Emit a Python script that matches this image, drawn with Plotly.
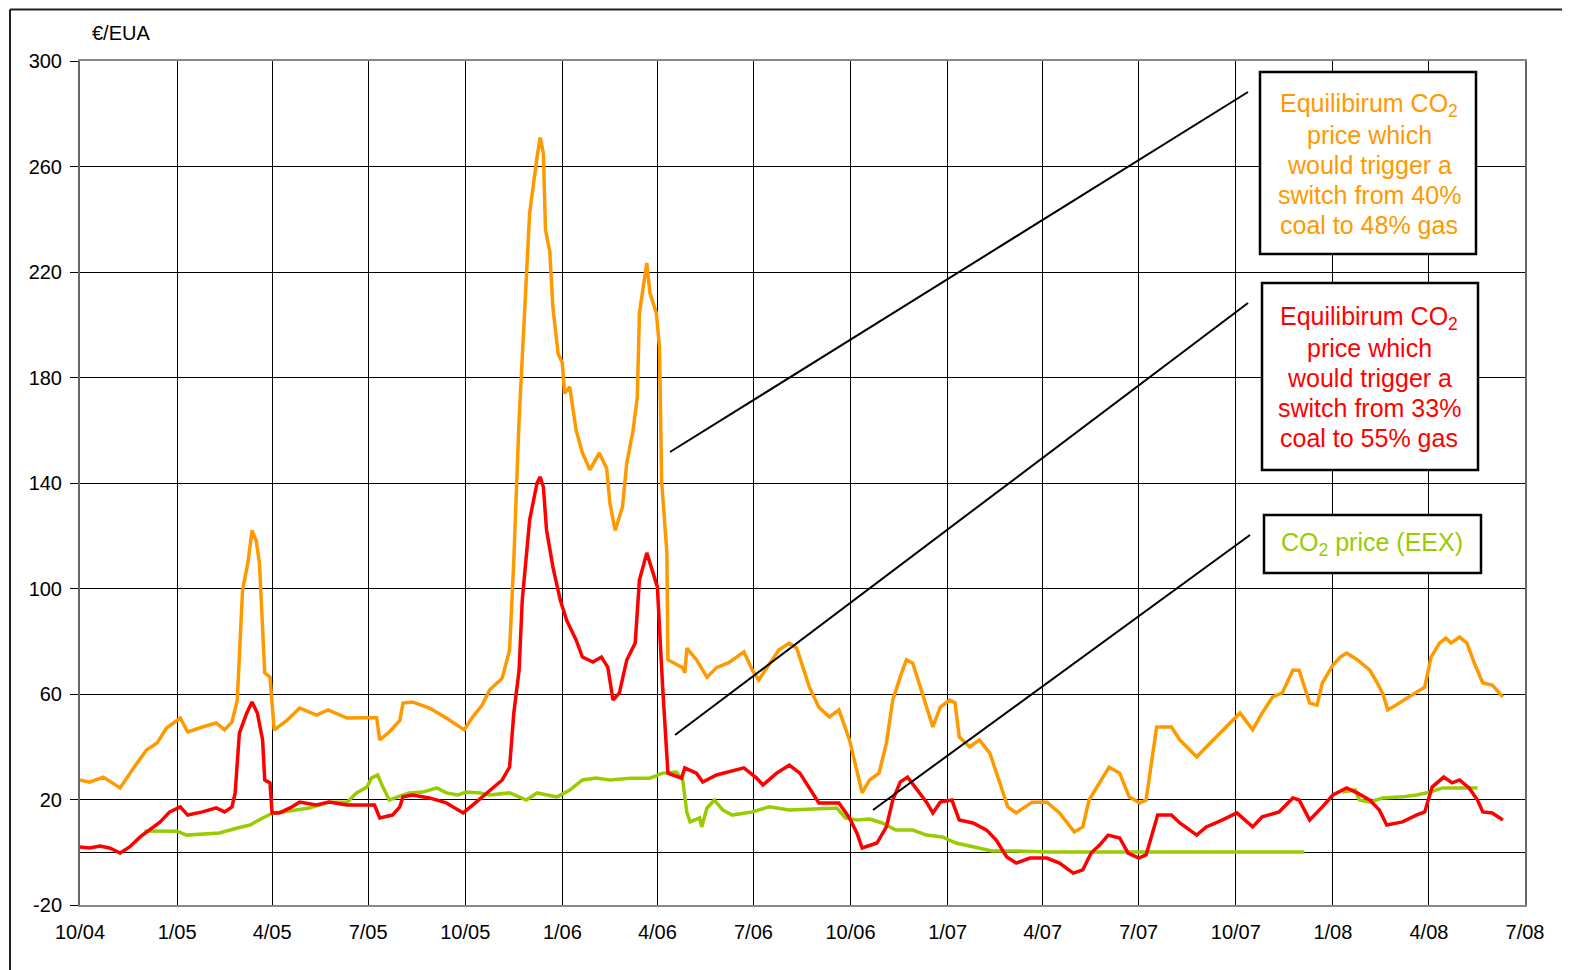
import plotly.graph_objects as go

# ---------------- data ----------------
orange_dates = ["2004-10-01","2004-10-10","2004-10-23","2004-11-08","2004-11-24","2004-12-03","2004-12-13","2004-12-22",
"2005-01-04","2005-01-11","2005-01-25","2005-02-07","2005-02-15","2005-02-22","2005-02-27","2005-03-04","2005-03-09",
"2005-03-13","2005-03-17","2005-03-20","2005-03-25","2005-03-30","2005-04-03","2005-04-15","2005-04-27","2005-05-13",
"2005-05-24","2005-06-11","2005-06-26","2005-07-09","2005-07-12","2005-07-21","2005-07-31","2005-08-03","2005-08-12",
"2005-08-28","2005-09-13","2005-09-30","2005-10-08","2005-10-17","2005-10-24","2005-11-05","2005-11-12","2005-11-16",
"2005-11-21","2005-11-24","2005-11-28","2005-12-01","2005-12-08","2005-12-11","2005-12-14","2005-12-16","2005-12-20",
"2005-12-23","2005-12-28","2006-01-01","2006-01-03","2006-01-08","2006-01-14","2006-01-20","2006-01-27","2006-02-05",
"2006-02-12","2006-02-15","2006-02-20","2006-02-27","2006-03-03","2006-03-09","2006-03-13","2006-03-15","2006-03-22",
"2006-03-25","2006-03-31","2006-04-03","2006-04-05","2006-04-10","2006-04-11","2006-04-25","2006-04-27","2006-04-29",
"2006-05-08","2006-05-18","2006-05-27","2006-06-08","2006-06-22","2006-06-30","2006-07-06","2006-07-25","2006-08-04",
"2006-08-11","2006-08-23","2006-09-01","2006-09-11","2006-09-20","2006-09-30","2006-10-07","2006-10-12","2006-10-19",
"2006-10-28","2006-11-04","2006-11-10","2006-11-17","2006-11-23","2006-11-29","2006-12-09","2006-12-18","2006-12-25",
"2007-01-03","2007-01-08","2007-01-12","2007-01-22","2007-01-31","2007-02-10","2007-02-19","2007-02-27","2007-03-07",
"2007-03-22","2007-04-05","2007-04-17","2007-05-01","2007-05-09","2007-05-15","2007-05-25","2007-06-03","2007-06-13",
"2007-06-22","2007-07-02","2007-07-08","2007-07-18","2007-08-01","2007-08-09","2007-08-25","2007-09-03","2007-09-16",
"2007-09-28","2007-10-05","2007-10-17","2007-10-26","2007-11-05","2007-11-14","2007-11-24","2007-11-30","2007-12-10",
"2007-12-17","2007-12-22","2008-01-01","2008-01-08","2008-01-14","2008-01-24","2008-02-05","2008-02-12","2008-02-17",
"2008-02-22","2008-03-01","2008-03-13","2008-03-20","2008-03-28","2008-04-03","2008-04-11","2008-04-17","2008-04-22",
"2008-04-30","2008-05-07","2008-05-14","2008-05-22","2008-05-31","2008-06-10"]
orange_values = [27.4,26.6,28.5,24.4,33.8,38.8,41.4,47.1,
50.9,45.6,47.5,49.0,46.4,49.4,57.7,99.4,109.7,
122.0,118.0,109.7,68.0,66.4,46.4,50.0,54.7,52.0,
54.0,50.9,51.0,51.0,42.6,45.6,50.0,56.6,57.0,
54.7,50.9,46.4,51.3,55.8,61.5,66.0,76.7,110.8,
164.0,187.8,217.0,242.4,263.6,271.0,265.0,236.0,228.0,
206.7,189.0,185.5,174.0,176.4,160.0,151.4,145.0,151.4,
145.5,132.4,122.0,131.0,147.6,160.0,172.6,204.5,223.4,
212.0,204.5,191.6,141.0,113.5,73.0,70.0,68.0,77.4,
73.0,66.4,70.0,72.0,76.0,69.0,65.3,76.7,79.3,
77.4,62.6,55.0,51.3,54.0,42.6,31.2,22.5,27.4,
30.0,41.4,57.7,66.4,73.0,71.7,58.9,47.5,55.0,
57.7,56.6,43.7,39.9,42.6,37.6,26.3,17.2,14.9,
19.0,19.0,14.9,7.7,9.6,19.8,26.3,32.3,30.0,
21.0,18.7,19.8,47.5,47.5,42.6,36.1,39.9,45.2,
50.0,52.8,46.4,52.8,58.9,60.4,69.0,69.0,56.6,
55.8,64.2,71.0,74.0,75.5,73.0,69.0,64.2,60.4,
54.0,55.8,58.9,60.8,62.6,74.0,79.3,81.2,79.3,
81.6,79.3,71.7,64.2,63.4,58.9]

red_dates = ["2004-10-01","2004-10-10","2004-10-20","2004-10-29","2004-11-08","2004-11-17","2004-11-27","2004-12-06",
"2004-12-16","2004-12-25","2005-01-04","2005-01-11","2005-01-25","2005-02-07","2005-02-15","2005-02-22","2005-02-25",
"2005-03-01","2005-03-08","2005-03-13","2005-03-18","2005-03-23","2005-03-25","2005-03-30","2005-04-01","2005-04-08",
"2005-04-18","2005-04-27","2005-05-13","2005-05-25","2005-06-11","2005-06-26","2005-07-07","2005-07-12","2005-07-24",
"2005-07-31","2005-08-03","2005-08-12","2005-08-28","2005-09-13","2005-09-29","2005-10-08","2005-10-17","2005-10-27",
"2005-11-05","2005-11-12","2005-11-16","2005-11-21","2005-11-24","2005-12-01","2005-12-08","2005-12-11","2005-12-14",
"2005-12-17","2005-12-23","2005-12-30","2006-01-05","2006-01-14","2006-01-20","2006-01-30","2006-02-07","2006-02-13",
"2006-02-18","2006-02-24","2006-03-03","2006-03-11","2006-03-15","2006-03-22","2006-03-27","2006-04-01","2006-04-06",
"2006-04-11","2006-04-24","2006-04-27","2006-05-08","2006-05-14","2006-05-27","2006-06-08","2006-06-22","2006-07-04",
"2006-07-10","2006-07-23","2006-08-04","2006-08-14","2006-08-26","2006-09-01","2006-09-20","2006-09-30","2006-10-07",
"2006-10-12","2006-10-26","2006-11-04","2006-11-10","2006-11-17","2006-11-24","2006-12-03","2006-12-12","2006-12-18",
"2006-12-25","2007-01-05","2007-01-12","2007-01-25","2007-02-07","2007-02-16","2007-02-26","2007-03-07","2007-03-20",
"2007-04-05","2007-04-17","2007-04-30","2007-05-09","2007-05-17","2007-05-25","2007-06-02","2007-06-13","2007-06-21",
"2007-07-01","2007-07-08","2007-07-19","2007-08-01","2007-08-09","2007-08-25","2007-09-03","2007-09-18","2007-10-02",
"2007-10-17","2007-10-26","2007-11-11","2007-11-24","2007-11-30","2007-12-10","2007-12-22","2008-01-01","2008-01-14",
"2008-01-24","2008-02-05","2008-02-14","2008-02-21","2008-03-07","2008-03-20","2008-03-28","2008-04-04","2008-04-15",
"2008-04-23","2008-04-30","2008-05-09","2008-05-17","2008-05-22","2008-05-31","2008-06-10"]
red_values = [2.0,1.6,2.4,1.6,-0.3,2.0,5.8,8.4,
11.5,15.3,17.2,14.1,15.3,16.8,15.3,17.2,22.5,
45.2,52.8,57.0,52.8,42.6,27.4,26.3,14.9,14.9,
16.8,19.0,17.9,19.0,17.9,17.9,17.9,13.0,14.1,
17.2,21.0,21.7,20.6,18.7,14.9,17.9,21.0,24.7,
27.4,32.3,52.8,69.0,95.6,126.0,140.0,142.3,138.5,
122.2,108.2,95.6,88.0,80.5,74.0,72.1,74.0,70.2,
57.7,60.4,72.9,79.3,103.2,113.5,107.0,100.6,62.6,
30.0,28.1,32.0,30.0,26.6,29.3,30.4,32.0,28.1,
25.5,30.0,33.0,30.0,22.5,18.7,18.7,13.0,7.3,
1.6,3.5,9.6,19.8,26.6,28.5,23.6,19.0,14.9,
19.0,19.8,12.2,11.1,8.4,4.6,-1.8,-4.1,-2.2,
-2.2,-4.1,-7.9,-6.7,-0.3,2.7,6.5,5.4,-0.3,
-2.2,-1.0,14.1,14.1,11.1,6.5,9.6,12.2,14.9,
9.6,13.4,15.3,20.6,19.8,12.2,17.2,21.7,24.4,
22.5,19.8,16.0,10.3,11.5,14.1,15.3,24.7,28.5,
26.3,27.4,24.4,19.8,15.3,14.9,12.2]

green_dates = ["2004-12-01","2005-01-01","2005-01-10","2005-02-10","2005-02-27","2005-03-11","2005-03-23","2005-04-02",
"2005-04-11","2005-04-24","2005-05-06","2005-05-25","2005-06-11","2005-06-20","2005-06-30","2005-07-04","2005-07-10",
"2005-07-15","2005-07-21","2005-07-29","2005-08-09","2005-08-22","2005-09-04","2005-09-13","2005-09-24","2005-10-02",
"2005-10-15","2005-10-24","2005-11-12","2005-11-28","2005-12-08","2005-12-27","2006-01-08","2006-01-20","2006-02-02",
"2006-02-15","2006-03-06","2006-03-25","2006-04-06","2006-04-19","2006-04-25","2006-04-29","2006-05-02","2006-05-11",
"2006-05-13","2006-05-18","2006-05-25","2006-06-02","2006-06-11","2006-06-30","2006-07-16","2006-08-04","2006-08-23",
"2006-09-18","2006-09-26","2006-10-07","2006-10-19","2006-10-31","2006-11-13","2006-11-29","2006-12-12","2006-12-27",
"2007-01-09","2007-01-28","2007-02-12","2007-03-07","2007-04-08","2007-05-25","2007-08-28","2007-12-05",
"2007-12-20",
"2008-01-10","2008-01-22","2008-01-26","2008-02-05","2008-02-17","2008-03-07","2008-03-20","2008-04-02","2008-04-14",
"2008-04-27","2008-05-09","2008-05-17"]
green_values = [8.1,8.0,6.5,7.3,9.2,10.3,13.0,14.9,
15.3,16.0,16.8,19.0,19.0,22.5,24.7,28.1,29.3,
24.7,19.8,21.0,22.5,22.8,24.4,22.5,21.7,22.8,
22.5,21.7,22.5,19.8,22.5,21.0,23.6,27.4,28.1,
27.4,28.1,28.1,30.0,30.4,27.4,14.9,11.5,13.0,
9.6,16.8,19.8,16.0,14.1,15.3,17.2,16.0,16.4,
16.8,13.0,12.2,12.6,11.1,8.4,8.4,6.5,5.8,
3.5,2.0,0.5,0.5,0.1,0.1,0.1,0.05,
None,
22.8,23.6,19.8,19.0,20.6,21.0,21.7,22.8,24.4,
24.4,24.4,24.4]

quarter_dates = ["2004-10-01","2005-01-01","2005-04-01","2005-07-01","2005-10-01","2006-01-01","2006-04-01",
"2006-07-01","2006-10-01","2007-01-01","2007-04-01","2007-07-01","2007-10-01","2008-01-01","2008-04-01","2008-07-01"]
quarter_labels = ["10/04","1/05","4/05","7/05","10/05","1/06","4/06","7/06","10/06","1/07","4/07","7/07",
"10/07","1/08","4/08","7/08"]
y_ticks = [-20, 20, 60, 100, 140, 180, 220, 260, 300]
y_labels = ["-20", "20", "60", "100", "140", "180", "220", "260", "300"]

box_texts = [
    ["Equilibirum CO<sub>2</sub>", "price which", "would trigger a", "switch from 40%", "coal to 48% gas"],
    ["Equilibirum CO<sub>2</sub>", "price which", "would trigger a", "switch from 33%", "coal to 55% gas"],
    ["CO<sub>2</sub> price (EEX)"],
]

ORANGE = "#FF9900"
RED = "#FF0000"
GREEN = "#99CC00"
FONT = "Arial, Liberation Sans, sans-serif"

# ---------------- figure ----------------
# page body has an 8px margin; figure is sized so the page coordinates match the reference
OFF = 8
W, H = 1570 - OFF, 970 - OFF
PL, PT, PR, PB = 80, 61, 1525, 905          # plot area in page pixels
L, T = PL - OFF, PT - OFF
PW, PH = PR - PL, PB - PT
R, B = W - L - PW, H - T - PH


def px(x):
    return (x - PL) / PW


def py(y):
    return (PB - y) / PH


fig = go.Figure()
fig.add_trace(go.Scatter(x=orange_dates, y=orange_values, mode="lines",
                         line=dict(color=ORANGE, width=3.5), name="40% coal to 48% gas"))
fig.add_trace(go.Scatter(x=green_dates, y=green_values, mode="lines", connectgaps=False,
                         line=dict(color=GREEN, width=3.5), name="CO2 price (EEX)"))
fig.add_trace(go.Scatter(x=red_dates, y=red_values, mode="lines",
                         line=dict(color=RED, width=3.5), name="33% coal to 55% gas"))

shapes = []
# outer frame (top and left)
shapes.append(dict(type="line", xref="paper", yref="paper", x0=px(10), y0=py(9.5), x1=px(1575), y1=py(9.5),
                   line=dict(color="#222", width=2)))
shapes.append(dict(type="line", xref="paper", yref="paper", x0=px(10), y0=py(9.5), x1=px(10), y1=py(975),
                   line=dict(color="#222", width=2)))
# connector lines
for (x0, y0, x1, y1) in [(670, 452, 1248, 92), (675, 735, 1248, 303), (873, 810, 1250, 535)]:
    shapes.append(dict(type="line", xref="paper", yref="paper", x0=px(x0), y0=py(y0), x1=px(x1), y1=py(y1),
                       line=dict(color="black", width=2)))
# boxes
boxes = [(1260, 72, 1476, 254), (1262, 283, 1478, 470), (1264, 515, 1481, 573)]
for (x0, y0, x1, y1) in boxes:
    shapes.append(dict(type="rect", xref="paper", yref="paper", x0=px(x0), y0=py(y0), x1=px(x1), y1=py(y1),
                       line=dict(color="black", width=2.5), fillcolor="white", layer="above"))

annotations = []
box_colors = [ORANGE, RED, GREEN]
box_first_line = [105, 318, 544]
box_center_x = [1369, 1369, 1372]
for texts, col, y0, xc in zip(box_texts, box_colors, box_first_line, box_center_x):
    for i, t in enumerate(texts):
        annotations.append(dict(xref="paper", yref="paper", x=px(xc), y=py(y0 + 30 * i), text=t,
                                showarrow=False, xanchor="center", yanchor="middle",
                                font=dict(family=FONT, size=25, color=col)))
annotations.append(dict(xref="paper", yref="paper", x=px(90), y=py(33), text="€/EUA", showarrow=False,
                        xanchor="left", yanchor="middle", font=dict(family=FONT, size=20, color="black")))

fig.update_layout(
    width=W, height=H,
    margin=dict(l=L, r=R, t=T, b=B, pad=0),
    paper_bgcolor="white", plot_bgcolor="white",
    showlegend=False,
    shapes=shapes, annotations=annotations,
    xaxis=dict(type="date", range=["2004-10-01", "2008-07-01"], tickvals=quarter_dates, ticktext=quarter_labels,
               showgrid=True, gridcolor="black", gridwidth=1, ticks="", showline=True, linecolor="#888",
               linewidth=2, mirror=True, tickfont=dict(family=FONT, size=20, color="black"),
               ticklabelstandoff=8, zeroline=False),
    yaxis=dict(range=[-20, 300], tickvals=y_ticks, ticktext=y_labels, showgrid=True, gridcolor="black",
               gridwidth=1, zeroline=True, zerolinecolor="black", zerolinewidth=1, ticks="outside", ticklen=8,
               tickcolor="black", showline=True, linecolor="#666", linewidth=2, mirror=True,
               tickfont=dict(family=FONT, size=20, color="black"), ticklabelstandoff=4),
)

fig.write_html("out.html")
